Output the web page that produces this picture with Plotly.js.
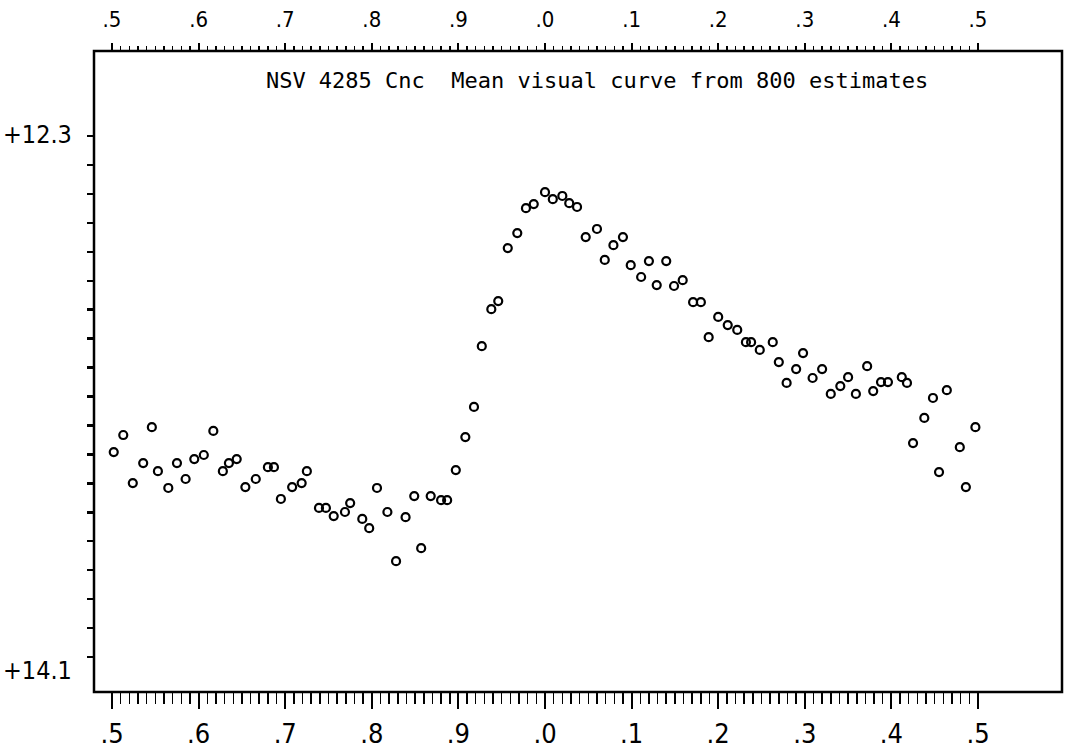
<!DOCTYPE html>
<html>
<head>
<meta charset="utf-8">
<script src="https://cdn.plot.ly/plotly-3.0.1.min.js"></script>
<style>html,body{margin:0;padding:0;background:#fff;}#chart{width:1065px;height:754px;}</style>
</head>
<body>
<div id="chart"></div>
<script>
// Phase (from -0.5 to +0.5) and mean visual magnitude of each bin
const phase = [
 -0.498,-0.487,-0.476,-0.464,-0.454,-0.447,-0.435,-0.425,-0.415,-0.405,
 -0.394,-0.383,-0.372,-0.365,-0.356,-0.346,-0.334,-0.320,-0.313,-0.305,
 -0.292,-0.281,-0.275,-0.261,-0.253,-0.244,-0.231,-0.225,-0.211,-0.203,
 -0.194,-0.182,-0.172,-0.161,-0.151,-0.143,-0.132,-0.120,-0.113,-0.103,
 -0.092,-0.082,-0.073,-0.062,-0.054,-0.043,-0.032,-0.022,-0.013,0.000,
 0.009,0.020,0.028,0.037,0.047,0.060,0.069,0.079,0.090,0.099,
 0.111,0.120,0.129,0.140,0.149,0.159,0.171,0.180,0.189,0.200,
 0.211,0.222,0.232,0.238,0.248,0.263,0.270,0.279,0.290,0.298,
 0.309,0.320,0.330,0.341,0.350,0.359,0.372,0.379,0.388,0.396,
 0.412,0.418,0.425,0.438,0.448,0.455,0.464,0.479,0.486,0.497
];
const magnitude = [
 13.392,13.333,13.499,13.430,13.306,13.458,13.516,13.430,13.485,13.416,
 13.402,13.319,13.458,13.430,13.416,13.513,13.485,13.444,13.444,13.554,
 13.513,13.499,13.458,13.585,13.585,13.613,13.599,13.568,13.623,13.655,
 13.516,13.599,13.769,13.617,13.544,13.724,13.544,13.558,13.558,13.454,
 13.340,13.236,13.026,12.898,12.870,12.687,12.635,12.549,12.535,12.494,
 12.518,12.507,12.532,12.545,12.649,12.621,12.728,12.677,12.649,12.746,
 12.787,12.732,12.815,12.732,12.818,12.798,12.874,12.874,12.995,12.925,
 12.953,12.970,13.012,13.012,13.039,13.012,13.081,13.153,13.105,13.050,
 13.136,13.105,13.191,13.164,13.133,13.191,13.095,13.181,13.150,13.150,
 13.133,13.153,13.361,13.274,13.205,13.461,13.178,13.375,13.513,13.306
];
const phaseTickVals = [-0.5,-0.4,-0.3,-0.2,-0.1,0,0.1,0.2,0.3,0.4,0.5];
const phaseTickText = [".5",".6",".7",".8",".9",".0",".1",".2",".3",".4",".5"];
const magLabels = ["+12.3","+14.1"];
const magLabelVals = [12.3,14.1];
const titleText = "NSV 4285 Cnc  Mean visual curve from 800 estimates";

// tick positions
const phaseMinor = [];
for (let i = -50; i <= 50; i++) { phaseMinor.push(i/100); }
const magMinor = [];
for (let i = 123; i <= 141; i++) { magMinor.push(i/10); }

const narrow = "DejaVu Sans Condensed, Liberation Sans Narrow, sans-serif";
const mono = "DejaVu Sans Mono, Liberation Mono, monospace";

const pts = {
  x: phase, y: magnitude, type: 'scatter', mode: 'markers',
  marker: {symbol: 'circle-open', size: 8, color: '#000', line: {width: 2.2, color: '#000'}},
  hoverinfo: 'skip', showlegend: false
};
const topRef = {
  x: phase, y: magnitude, xaxis: 'x2', yaxis: 'y', type: 'scatter', mode: 'markers',
  marker: {opacity: 0}, hoverinfo: 'skip', showlegend: false
};

const xr = [-0.5208, 0.597];
const layout = {
  width: 1065, height: 754,
  margin: {l: 94, r: 3, t: 51, b: 62, pad: 0},
  paper_bgcolor: '#fff', plot_bgcolor: '#fff',
  showlegend: false,
  title: {text: titleText, font: {family: mono, size: 22, color: '#000'},
          x: 0.5606, xanchor: 'center', y: 0.893, yanchor: 'middle'},
  xaxis: {
    range: xr, autorange: false, showgrid: false, zeroline: false, showline: false,
    tickmode: 'array', tickvals: phaseTickVals, ticktext: phaseTickText,
    ticks: 'outside', ticklen: 16, tickwidth: 2, tickcolor: '#000',
    tickfont: {family: narrow, size: 27, color: '#000'}, ticklabelstandoff: 2,
    minor: {tickmode: 'array', tickvals: phaseMinor, ticks: 'outside', ticklen: 11, tickwidth: 1.5, tickcolor: '#000', showgrid: false}
  },
  xaxis2: {
    overlaying: 'x', side: 'top', matches: 'x',
    range: xr, autorange: false, showgrid: false, zeroline: false, showline: false,
    tickmode: 'array', tickvals: phaseTickVals, ticktext: phaseTickText,
    ticks: 'outside', ticklen: 7, tickwidth: 2, tickcolor: '#000',
    tickfont: {family: narrow, size: 22, color: '#000'}, ticklabelstandoff: 7,
    minor: {tickmode: 'array', tickvals: phaseMinor, ticks: 'outside', ticklen: 4, tickwidth: 1.5, tickcolor: '#000', showgrid: false}
  },
  yaxis: {
    range: [14.221, 12.006], autorange: false, showgrid: false, zeroline: false, showline: false,
    tickmode: 'array', tickvals: [13.1], ticktext: [''], showticklabels: false,
    ticks: 'outside', ticklen: 13, tickwidth: 2.5, tickcolor: '#000',
    minor: {tickmode: 'array', tickvals: magMinor, ticks: 'outside', ticklen: 6, tickwidth: 2.5, tickcolor: '#000', showgrid: false}
  },
  shapes: [{type: 'rect', xref: 'paper', yref: 'paper', x0: 0, x1: 1, y0: 0, y1: 1,
            line: {color: '#000', width: 2.5}, fillcolor: 'rgba(0,0,0,0)'}],
  annotations: magLabels.map((t, i) => ({
    text: t, xref: 'paper', yref: 'y', x: 0, y: magLabelVals[i],
    xanchor: 'right', yanchor: 'middle', xshift: -20, yshift: i === 0 ? 2 : -14,
    showarrow: false, font: {family: narrow, size: 25, color: '#000'}
  }))
};

Plotly.newPlot('chart', [pts, topRef], layout, {staticPlot: true, displayModeBar: false});
</script>
</body>
</html>
